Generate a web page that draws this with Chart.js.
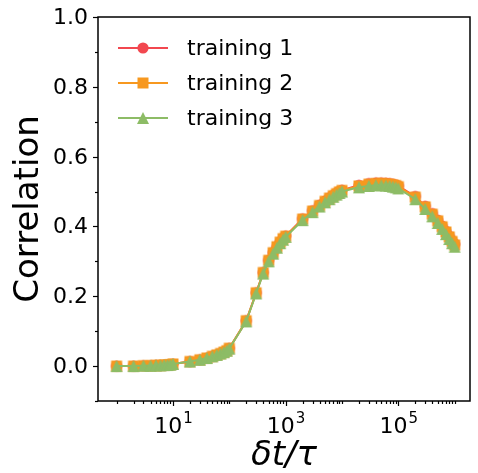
<!DOCTYPE html>
<html>
<head>
<meta charset="utf-8">
<script src="https://cdn.jsdelivr.net/npm/chart.js@4.4.1/dist/chart.umd.min.js"></script>
<style>
    html, body { margin: 0; padding: 0; background: #fff; }
    #wrap { width: 478px; height: 473px; }
</style>
</head>
<body>
<div id="wrap"><canvas id="lineChart" width="478" height="473"></canvas></div>
<script>
// lag times dt/tau (1..9 per decade)
var lagTimes = [1, 2, 3, 4, 5, 6, 7, 8, 9,
    10, 20, 30, 40, 50, 60, 70, 80, 90,
    100, 200, 300, 400, 500, 600, 700, 800, 900,
    1e3, 2e3, 3e3, 4e3, 5e3, 6e3, 7e3, 8e3, 9e3,
    1e4, 2e4, 3e4, 4e4, 5e4, 6e4, 7e4, 8e4, 9e4,
    1e5, 2e5, 3e5, 4e5, 5e5, 6e5, 7e5, 8e5, 9e5,
    1e6];

var training1 = [0.000, 0.000, 0.001, 0.001, 0.002, 0.002, 0.003, 0.003, 0.004,
    0.006, 0.013, 0.018, 0.023, 0.028, 0.032, 0.036, 0.040, 0.044,
    0.051, 0.130, 0.210, 0.268, 0.303, 0.325, 0.342, 0.355, 0.365,
    0.373, 0.422, 0.445, 0.461, 0.473, 0.482, 0.489, 0.495, 0.500,
    0.504, 0.518, 0.523, 0.525, 0.525, 0.524, 0.523, 0.521, 0.519,
    0.516, 0.486, 0.458, 0.437, 0.418, 0.401, 0.386, 0.372, 0.359,
    0.349];

var training2 = [0.000, 0.000, 0.001, 0.001, 0.002, 0.002, 0.003, 0.003, 0.004,
    0.006, 0.013, 0.018, 0.023, 0.028, 0.032, 0.036, 0.040, 0.044,
    0.051, 0.130, 0.210, 0.268, 0.303, 0.325, 0.342, 0.355, 0.365,
    0.372, 0.421, 0.444, 0.460, 0.472, 0.481, 0.488, 0.494, 0.499,
    0.503, 0.516, 0.521, 0.523, 0.523, 0.522, 0.521, 0.519, 0.517,
    0.514, 0.484, 0.456, 0.435, 0.416, 0.399, 0.384, 0.370, 0.357,
    0.347];

var training3 = [0.000, 0.000, 0.001, 0.001, 0.002, 0.002, 0.003, 0.003, 0.004,
    0.006, 0.013, 0.018, 0.023, 0.028, 0.032, 0.036, 0.040, 0.044,
    0.050, 0.128, 0.208, 0.265, 0.300, 0.322, 0.339, 0.352, 0.362,
    0.370, 0.418, 0.441, 0.457, 0.469, 0.478, 0.485, 0.491, 0.496,
    0.500, 0.512, 0.516, 0.518, 0.518, 0.517, 0.516, 0.514, 0.512,
    0.509, 0.478, 0.450, 0.429, 0.410, 0.393, 0.378, 0.364, 0.352,
    0.342];

var seriesLabels = ["training 1", "training 2", "training 3"];
var yMajorTicks = [0.0, 0.2, 0.4, 0.6, 0.8, 1.0];
var yMinorTicks = [-0.1, 0.1, 0.3, 0.5, 0.7, 0.9];
var xMajorExponents = [1, 3, 5];

var colRed = "#f2474f";
var colOrange = "#f7981f";
var colGreen = "#8dbc66";


function makeMarker(shape, color) {
    var c = document.createElement("canvas");
    c.width = 14;
    c.height = 14;
    var g = c.getContext("2d");
    g.fillStyle = color;
    g.beginPath();
    if (shape === "circle") {
        g.arc(7, 7, 5.6, 0, Math.PI * 2);
    } else if (shape === "square") {
        g.rect(1.5, 1.5, 11, 11);
    } else {
        g.moveTo(7, 1);
        g.lineTo(13, 13);
        g.lineTo(1, 13);
        g.closePath();
    }
    g.fill();
    return c;
}

var markers = [makeMarker("circle", colRed), makeMarker("square", colOrange), makeMarker("triangle", colGreen)];
var colors = [colRed, colOrange, colGreen];

function toPoints(ys) {
    var pts = [];
    for (var i = 0; i < lagTimes.length; i++) {
        pts.push({ x: lagTimes[i], y: ys[i] });
    }
    return pts;
}

var axesPlugin = {
    id: "mplAxes",
    afterDraw: function (chart) {
        var ctx = chart.ctx;
        var area = chart.chartArea;
        var xs = chart.scales.x;
        var ys = chart.scales.y;
        var i, p;

        ctx.save();
        ctx.strokeStyle = "#000";
        ctx.fillStyle = "#000";

        // spines
        ctx.lineWidth = 1.5;
        ctx.strokeRect(area.left, area.top, area.right - area.left, area.bottom - area.top);

        // y ticks
        ctx.lineWidth = 1.2;
        ctx.font = "22px 'DejaVu Sans'";
        ctx.textAlign = "right";
        ctx.textBaseline = "middle";
        for (i = 0; i < yMajorTicks.length; i++) {
            p = Math.round(ys.getPixelForValue(yMajorTicks[i])) + 0.5;
            ctx.beginPath();
            ctx.moveTo(area.left, p);
            ctx.lineTo(area.left - 5, p);
            ctx.stroke();
            ctx.fillText(yMajorTicks[i].toFixed(1), area.left - 10, p + 1);
        }
        for (i = 0; i < yMinorTicks.length; i++) {
            p = Math.round(ys.getPixelForValue(yMinorTicks[i])) + 0.5;
            ctx.beginPath();
            ctx.moveTo(area.left, p);
            ctx.lineTo(area.left - 3, p);
            ctx.stroke();
        }

        // x ticks (log)
        for (var e = 0; e <= 6; e++) {
            for (var s = 1; s <= 9; s++) {
                var v = s * Math.pow(10, e);
                if (v < xs.min || v > xs.max) continue;
                p = Math.round(xs.getPixelForValue(v)) + 0.5;
                var isMajor = (s === 1 && xMajorExponents.indexOf(e) >= 0);
                ctx.beginPath();
                ctx.moveTo(p, area.bottom);
                ctx.lineTo(p, area.bottom + (isMajor ? 5 : 3));
                ctx.stroke();
            }
        }
        for (i = 0; i < xMajorExponents.length; i++) {
            p = xs.getPixelForValue(Math.pow(10, xMajorExponents[i]));
            ctx.font = "22px 'DejaVu Sans'";
            var w1 = ctx.measureText("10").width;
            ctx.font = "15px 'DejaVu Sans'";
            var w2 = ctx.measureText(String(xMajorExponents[i])).width;
            var x0 = p - (w1 + w2) / 2;
            ctx.textAlign = "left";
            ctx.textBaseline = "alphabetic";
            ctx.font = "22px 'DejaVu Sans'";
            ctx.fillText("10", x0, 433);
            ctx.font = "15px 'DejaVu Sans'";
            ctx.fillText(String(xMajorExponents[i]), x0 + w1 + 1, 423);
        }

        // axis titles
        ctx.font = "italic 34px 'DejaVu Sans'";
        ctx.textAlign = "center";
        ctx.fillText("\u03b4t/\u03c4", (area.left + area.right) / 2, 465);

        ctx.save();
        ctx.translate(38, (area.top + area.bottom) / 2);
        ctx.rotate(-Math.PI / 2);
        ctx.font = "34px 'DejaVu Sans'";
        ctx.textAlign = "center";
        ctx.textBaseline = "alphabetic";
        ctx.fillText("Correlation", 0, 0);
        ctx.restore();

        // legend
        var rows = [48, 83, 118];
        for (i = 0; i < seriesLabels.length; i++) {
            ctx.strokeStyle = colors[i];
            ctx.lineWidth = 2;
            ctx.beginPath();
            ctx.moveTo(118, rows[i]);
            ctx.lineTo(168, rows[i]);
            ctx.stroke();
            ctx.drawImage(markers[i], 143 - 7, rows[i] - 7);
            ctx.fillStyle = "#000";
            ctx.font = "22px 'DejaVu Sans'";
            ctx.textAlign = "left";
            ctx.textBaseline = "middle";
            ctx.fillText(seriesLabels[i], 187, rows[i] + 1);
        }

        ctx.restore();
    }
};

var ctx = document.getElementById("lineChart").getContext("2d");
new Chart(ctx, {
    type: "line",
    data: {
        datasets: [
            { label: seriesLabels[0], data: toPoints(training1), borderColor: colRed, backgroundColor: colRed, borderWidth: 2, pointStyle: markers[0], pointRadius: 6, order: 3 },
            { label: seriesLabels[1], data: toPoints(training2), borderColor: colOrange, backgroundColor: colOrange, borderWidth: 2, pointStyle: markers[1], pointRadius: 6, order: 2 },
            { label: seriesLabels[2], data: toPoints(training3), borderColor: colGreen, backgroundColor: colGreen, borderWidth: 2, pointStyle: markers[2], pointRadius: 6, order: 1 }
        ]
    },
    options: {
        responsive: false,
        animation: false,
        events: [],
        layout: { padding: { left: 98, top: 17, right: 1, bottom: 72 } },
        plugins: { legend: { display: false }, tooltip: { enabled: false } },
        scales: {
            x: { type: "logarithmic", display: false, min: Math.pow(10, -0.33), max: Math.pow(10, 6.272) },
            y: { type: "linear", display: false, min: -0.1, max: 1.0 }
        }
    },
    plugins: [axesPlugin]
});
</script>
</body>
</html>
